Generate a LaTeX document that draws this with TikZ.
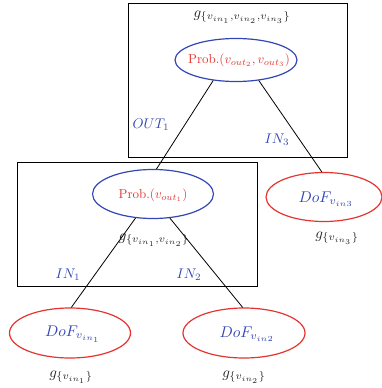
\documentclass[tikz,border=0pt]{standalone}
\usetikzlibrary{shapes.geometric}
\definecolor{blueE}{RGB}{50,70,180}
\definecolor{redE}{RGB}{228,52,48}
\newcommand{\Sc}[2]{\scalebox{#1}{#2}}
\begin{document}
\begin{tikzpicture}[x=1pt,y=-1pt,
  box/.style={draw=black,line width=0.8pt},
  probell/.style={draw=blueE,ellipse,line width=1.2pt,inner sep=0pt},
  dofell/.style={draw=redE,ellipse,line width=1.2pt,inner sep=0pt},
  probtxt/.style={text=redE,inner sep=0pt},
  doftxt/.style={text=blueE,inner sep=0pt},
  glab/.style={text=black!85,inner sep=0pt},
  iolab/.style={text=blueE,inner sep=0pt},
  conn/.style={draw=black,line width=0.8pt}]
\useasboundingbox (0,0) rectangle (382,388);
% boxes
\draw[box] (128,3) rectangle (347,157);
\draw[box] (17,162) rectangle (257,286);
% ellipses
\node[probell,minimum width=122pt,minimum height=43pt] (top) at (236,60) {};
\node[probtxt] (toptxt) at (239,60) {\Sc{1.3}{Prob.$(v_{out_2},v_{out_3})$}};
\node[probell,minimum width=121pt,minimum height=49pt] (mid) at (153,194) {};
\node[probtxt] (midtxt) at (153,195) {\Sc{1.3}{Prob.$(v_{out_1})$}};
\node[dofell,minimum width=116pt,minimum height=49pt] (d3) at (324,197) {};
\node[doftxt] (d3txt) at (326,199) {\Sc{1.55}{$DoF_{v_{in3}}$}};
\node[dofell,minimum width=121pt,minimum height=50pt] (d1) at (70,333) {};
\node[doftxt] (d1txt) at (73,334) {\Sc{1.55}{$DoF_{v_{in_1}}$}};
\node[dofell,minimum width=122pt,minimum height=50pt] (d2) at (244,333) {};
\node[doftxt] (d2txt) at (247,334) {\Sc{1.55}{$DoF_{v_{in2}}$}};
% g labels
\node[glab] (gtop) at (242,17) {\Sc{1.5}{$g_{\{v_{in_1},v_{in_2},v_{in_3}\}}$}};
\node[glab] (gmid) at (154,240) {\Sc{1.5}{$g_{\{v_{in_1},v_{in_2}\}}$}};
\node[glab] (g3) at (337,238) {\Sc{1.5}{$g_{\{v_{in_3}\}}$}};
\node[glab] (g1) at (71,377) {\Sc{1.5}{$g_{\{v_{in_1}\}}$}};
\node[glab] (g2) at (244,377) {\Sc{1.5}{$g_{\{v_{in_2}\}}$}};
% io labels
\node[iolab] (out1) at (151,125) {\Sc{1.4}{$OUT_1$}};
\node[iolab] (in3) at (277,140) {\Sc{1.4}{$IN_3$}};
\node[iolab] (in1) at (68,275) {\Sc{1.4}{$IN_1$}};
\node[iolab] (in2) at (189,275) {\Sc{1.4}{$IN_2$}};
% connectors
\draw[conn] (top.222) -- (mid.82);
\draw[conn] (top.318) -- (d3.95);
\draw[conn] (mid.234) -- (d1.87);
\draw[conn] (mid.305) -- (d2.93);
\end{tikzpicture}
\end{document}
